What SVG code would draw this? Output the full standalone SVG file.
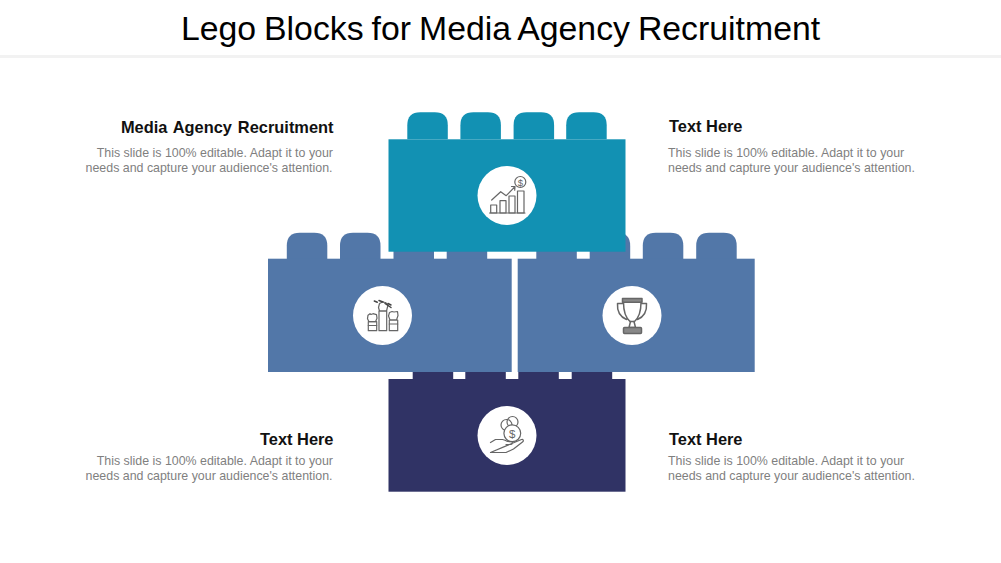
<svg xmlns="http://www.w3.org/2000/svg" width="1001" height="563" viewBox="0 0 1001 563">
<style>
text{font-family:"Liberation Sans",Arial,sans-serif}
.title{font-size:33.8px;fill:#000;text-anchor:middle;word-spacing:-1.4px}
.h{font-size:16.4px;font-weight:bold;fill:#111}
.wide{word-spacing:1.4px}
.b{font-size:12.4px;fill:#7f7f7f}
.r{text-anchor:end}
.c{fill:#fff}
.i{fill:none;stroke:#666;stroke-width:1.2;stroke-linejoin:round;stroke-linecap:round}
.w{fill:#fff}
.teal{fill:#1291b3}.blue{fill:#5277a8}.navy{fill:#303365}
</style>
<defs>
<path id="stud" d="M0 27V13Q0 0 13 0H27.500Q40.500 0 40.500 13V27Z"/>
</defs>
<rect width="1001" height="563" fill="#fff"/>
<rect x="0" y="55" width="1001" height="3" fill="#f2f2f2"/>
<text class="title" x="500.500" y="40">Lego Blocks for Media Agency Recruitment</text>

<g id="block-bottom">
<g class="navy">
<rect x="412.700" y="372" width="40.500" height="8"/><rect x="465.300" y="372" width="40.500" height="8"/><rect x="518.300" y="372" width="40.500" height="8"/><rect x="571.700" y="372" width="40.500" height="8"/>
<rect x="388.500" y="379" width="237" height="112.700"/>
</g>
<circle class="c" cx="507" cy="435.500" r="29.500"/>
<g class="i">
<circle cx="506.500" cy="425" r="5.500"/><circle cx="512.500" cy="422" r="5.500"/>
<circle class="w" cx="512.300" cy="433.300" r="8.400"/>
<path d="M490.500 442.500l5-3h7c2 .3 3.500 1 5 2l4 .2c1.500.3 1 2.600-.5 2.800h-5M513 443l8.500-3.500c1.800-.5 2.500 1.300 1 2.500l-9 7-7.500 3.500H490.500z"/>
</g>
<text x="512.300" y="437.500" font-size="11.500" fill="#666" text-anchor="middle">$</text>
</g>

<g id="block-left">
<g class="blue">
<use href="#stud" x="286.800" y="232.700"/><use href="#stud" x="340" y="232.700"/><use href="#stud" x="393.500" y="232.700"/><use href="#stud" x="446.700" y="232.700"/>
<rect x="268" y="258.700" width="243.700" height="113.300"/>
</g>
<circle class="c" cx="382.500" cy="315.500" r="29.500"/>
<g class="i">
<rect x="368.300" y="321.700" width="8.400" height="9"/><path d="M368.300 325.500h8.400"/>
<rect x="379" y="311" width="7.700" height="19.700"/>
<rect x="389.300" y="320" width="8.400" height="10.700"/><path d="M389.300 324h8.400"/>
<path d="M369 321.700l-1.500-3 .5-3.500 2-1.500 1 .8 2-.8 3.500 1 .5 3.500-1.500 3.500zM379.500 311l-1-3.500 1-4 3-1.500 3 .5 2.500 2.500-1.500 6zM390 320l-1.500-4 1-3.500 2.500-1 2 .5 3.500-.5.500 4-1.500 4.500z"/>
<path d="M374.300 301l3 1.200M379 300.500l4 1.500M385 303.500l6 4M388 303.500l3 1.500" stroke="#444" stroke-width="1.500"/>
</g>
</g>

<g id="block-right">
<g class="blue">
<use href="#stud" x="536.300" y="232.700"/><use href="#stud" x="589.700" y="232.700"/><use href="#stud" x="642.800" y="232.700"/><use href="#stud" x="696.200" y="232.700"/>
<rect x="517.700" y="258.700" width="237" height="113.300"/>
</g>
<circle class="c" cx="632" cy="315.500" r="29.500"/>
<g class="i" style="stroke-width:1.500px">
<rect x="622.500" y="298.500" width="19.500" height="3.800" fill="#888"/>
<path d="M623.500 302.500c0 9 2 15 6.500 19h4.500c4.500-4 6.500-10 6.500-19M623 303.500h-5.500c-.5 7 2 13 9 16M641 303.500h5.500c.5 7-2 13-9 16"/>
<path d="M630.500 321.500l-1.500 6h6.500l-1.500-6"/>
<rect x="623.500" y="327.500" width="18" height="6" rx="1" fill="#888"/>
</g>
</g>

<g id="block-top">
<g class="teal">
<use href="#stud" x="407.300" y="112.300"/><use href="#stud" x="460.400" y="112.300"/><use href="#stud" x="513.600" y="112.300"/><use href="#stud" x="566.200" y="112.300"/>
<rect x="388.500" y="139.300" width="237" height="112.400"/>
</g>
<circle class="c" cx="507" cy="195.500" r="29.500"/>
<g class="i">
<path d="M489.500 213h35.500"/>
<rect x="490.700" y="205" width="6" height="8"/><rect x="500" y="200.700" width="6" height="12.300"/><rect x="509" y="196" width="6" height="17"/><rect x="517.500" y="191" width="6.500" height="22"/>
<path d="M491.700 200l9-8.300 5.500 4 8.800-9M511.500 186.500l3.500.2-.3 3.500"/>
<circle cx="520.300" cy="182" r="5.500"/>
</g>
<text x="520.300" y="185.500" font-size="9.500" fill="#666" text-anchor="middle">$</text>
</g>

<g id="text-tl">
<text class="h r wide" x="333.500" y="132.500">Media Agency Recruitment</text>
<text class="b r" x="333" y="157">This slide is 100% editable. Adapt it to your</text>
<text class="b r" x="332.500" y="172">needs and capture your audience's attention.</text>
</g>
<g id="text-tr">
<text class="h" x="669" y="132">Text Here</text>
<text class="b" x="668" y="157">This slide is 100% editable. Adapt it to your</text>
<text class="b" x="668" y="172">needs and capture your audience's attention.</text>
</g>
<g id="text-bl">
<text class="h r" x="333.500" y="444.500">Text Here</text>
<text class="b r" x="333" y="465">This slide is 100% editable. Adapt it to your</text>
<text class="b r" x="332.500" y="480">needs and capture your audience's attention.</text>
</g>
<g id="text-br">
<text class="h" x="669" y="444.500">Text Here</text>
<text class="b" x="668" y="465">This slide is 100% editable. Adapt it to your</text>
<text class="b" x="668" y="480">needs and capture your audience's attention.</text>
</g>
<g id="connectors"/>
</svg>
